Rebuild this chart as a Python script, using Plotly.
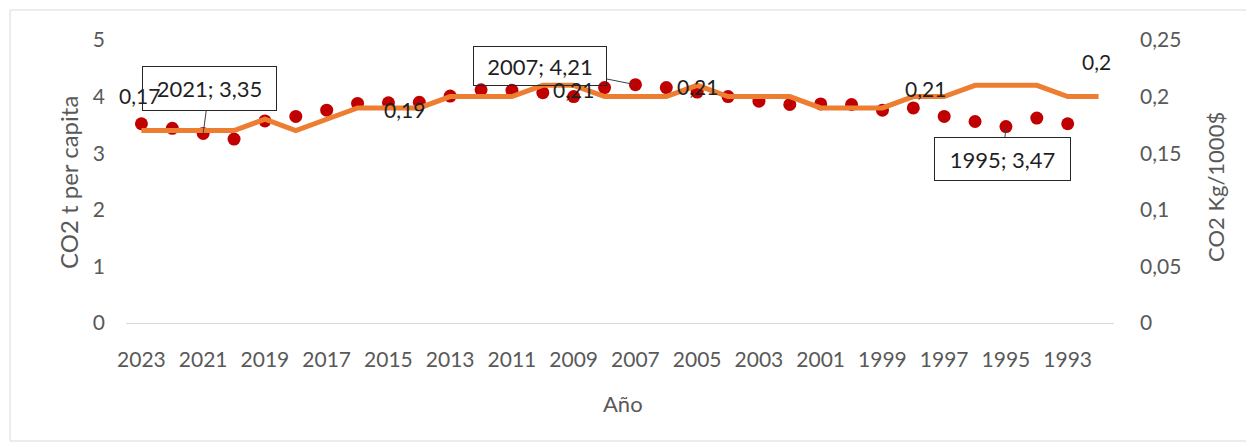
import plotly.graph_objects as go

# ---- data ----
years = list(range(2023, 1991, -1))  # 2023 ... 1992
co2_per_capita = [3.52, 3.44, 3.35, 3.25, 3.57, 3.65, 3.76, 3.88, 3.89, 3.90,
                  4.01, 4.12, 4.11, 4.07, 4.00, 4.16, 4.21, 4.16, 4.08, 4.00,
                  3.92, 3.86, 3.87, 3.86, 3.76, 3.80, 3.65, 3.56, 3.47, 3.62,
                  3.52, None]
co2_intensity = [0.17, 0.17, 0.17, 0.17, 0.18, 0.17, 0.18, 0.19, 0.19, 0.19,
                 0.20, 0.20, 0.20, 0.21, 0.21, 0.20, 0.20, 0.20, 0.21, 0.20,
                 0.20, 0.20, 0.19, 0.19, 0.19, 0.20, 0.20, 0.21, 0.21, 0.21,
                 0.20, 0.20]
tick_years = list(range(2023, 1992, -2))
callout_years = [2021, 2007, 1995]
line_label_years = [2023, 2015, 2009, 2005, 1996, 1992]

# ---- layout geometry (reference pixels; page body adds an 8px margin) ----
OFF = 8
W, H = 1254 - OFF, 447 - OFF
L, R, T, B = 126 - OFF, 1114 - OFF, 40 - OFF, 323 - OFF
PW, PH = R - L, B - T


def px(x):
    return (x - OFF - L) / PW


def py(y):
    return (B - (y - OFF)) / PH


FONT = "Lato, 'Open Sans', Arial, sans-serif"
GRAY = "#595959"
DARK = "#1f1f1f"

fig = go.Figure()
fig.add_trace(go.Scatter(
    x=years, y=co2_per_capita, mode="markers",
    marker=dict(color="#C00000", size=13, line=dict(width=0)),
    name="CO2 t per capita", yaxis="y"))
fig.add_trace(go.Scatter(
    x=years, y=co2_intensity, mode="lines",
    line=dict(color="#ED7D31", width=5),
    name="CO2 Kg/1000$", yaxis="y2"))


def fmt(v):
    return f"{v:.2f}".replace(".", ",")


def fmt_short(v):
    return f"{v:g}".replace(".", ",")


annotations = []
# labels on the orange line (drawn first so callout boxes sit above them)
line_label_shift = {
    2023: (-2, 35), 2015: (16, -2), 2009: (0, -4), 2005: (0, -1),
    1996: (-50, -3), 1992: (-2, 35),
}
for yr in line_label_years:
    v = co2_intensity[years.index(yr)]
    xs, ys = line_label_shift[yr]
    annotations.append(dict(
        x=yr, y=v, xref="x", yref="y2", text=fmt_short(v), showarrow=False,
        xshift=xs, yshift=ys,
        font=dict(family=FONT, size=21, color=DARK)))

# callouts on red dots
callout_style = {
    2021: dict(ax=6, ay=-45, w=131, h=41),
    2007: dict(ax=-95, ay=-19, w=130, h=36),
    1995: dict(ax=-3, ay=32, w=133, h=40),
}
for yr in callout_years:
    v = co2_per_capita[years.index(yr)]
    s = callout_style[yr]
    annotations.append(dict(
        x=yr, y=v, xref="x", yref="y", text=f"{yr}; {fmt(v)}",
        showarrow=True, arrowhead=0, arrowwidth=1, arrowcolor="#404040",
        ax=s["ax"], ay=s["ay"], width=s["w"], height=s["h"],
        bgcolor="rgba(255,255,255,0)", bordercolor="#262626", borderwidth=1,
        font=dict(family=FONT, size=22, color=DARK)))

# axis titles
annotations.append(dict(x=px(68), y=py(183), xref="paper", yref="paper",
                        xanchor="center", yanchor="middle",
                        text="CO2 t per capita", textangle=-90, showarrow=False,
                        font=dict(family=FONT, size=24, color=GRAY)))
annotations.append(dict(x=px(1215), y=py(187), xref="paper", yref="paper",
                        xanchor="center", yanchor="middle",
                        text="CO2 Kg/1000$", textangle=-90, showarrow=False,
                        font=dict(family=FONT, size=22, color=GRAY)))
annotations.append(dict(x=px(623), y=py(403), xref="paper", yref="paper",
                        xanchor="center", yanchor="middle",
                        text="Año", showarrow=False,
                        font=dict(family=FONT, size=22, color=GRAY)))

fig.update_layout(
    width=W, height=H,
    margin=dict(l=L, r=W - R, t=T, b=H - B, pad=0),
    paper_bgcolor="white", plot_bgcolor="white",
    separators=",.",
    showlegend=False,
    font=dict(family=FONT, size=21, color=GRAY),
    xaxis=dict(range=[2023.5, 1991.5], tickvals=tick_years,
               ticktext=[str(t) for t in tick_years],
               showgrid=False, zeroline=False, showline=True,
               linecolor="#d9d9d9", linewidth=1, ticks="",
               ticklabelstandoff=18,
               tickfont=dict(family=FONT, size=21, color=GRAY)),
    yaxis=dict(range=[0, 5], dtick=1, showgrid=False, zeroline=False,
               showline=False, ticks="", ticklabelstandoff=20,
               tickfont=dict(family=FONT, size=21, color=GRAY)),
    yaxis2=dict(range=[0, 0.25], dtick=0.05, overlaying="y", side="right",
                showgrid=False, zeroline=False, showline=False, ticks="",
                ticklabelstandoff=25,
                tickfont=dict(family=FONT, size=21, color=GRAY)),
    annotations=annotations,
    shapes=[dict(type="rect", xref="paper", yref="paper",
                 x0=px(10), x1=px(1262), y0=py(441), y1=py(10),
                 line=dict(color="#d9d9d9", width=1), layer="below")],
)

fig.write_html("out.html")
